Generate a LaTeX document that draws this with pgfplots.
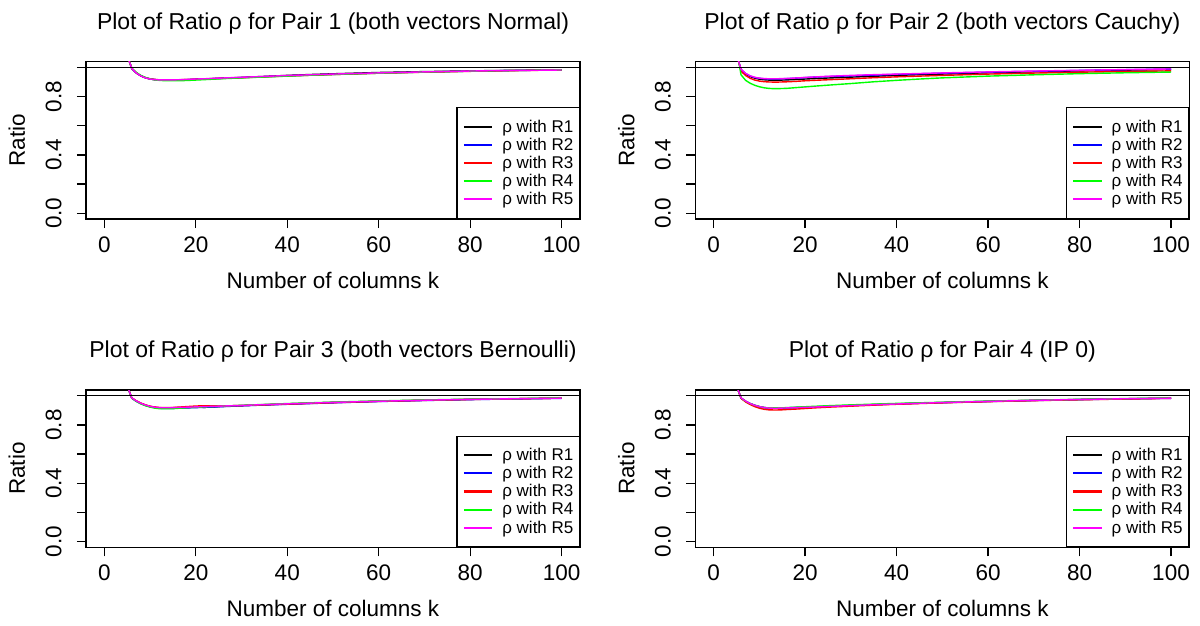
\documentclass[border=0pt]{standalone}
\usepackage{pgfplots}
\pgfplotsset{compat=1.18}
\usepackage{pgfplotstable}
\usepackage{fontspec}
\setmainfont{Liberation Sans}

\pgfplotstableread{
k r1 r2 r3 r4 r5
5 1.085 1.085 1.085 1.085 1.085
6 0.995 0.993 0.994 0.996 0.995
7 0.963 0.962 0.963 0.966 0.963
8 0.943 0.942 0.943 0.946 0.942
9 0.930 0.929 0.930 0.932 0.929
10 0.922 0.921 0.922 0.922 0.921
11 0.917 0.917 0.918 0.915 0.917
12 0.915 0.915 0.916 0.912 0.915
13 0.914 0.914 0.916 0.910 0.915
14 0.914 0.913 0.916 0.909 0.915
15 0.914 0.913 0.916 0.909 0.915
16 0.915 0.914 0.916 0.909 0.916
18 0.917 0.916 0.917 0.911 0.918
20 0.920 0.919 0.919 0.914 0.921
22 0.922 0.921 0.921 0.917 0.923
25 0.926 0.925 0.925 0.922 0.927
30 0.932 0.931 0.930 0.929 0.933
35 0.939 0.937 0.936 0.935 0.939
40 0.946 0.943 0.942 0.941 0.945
45 0.952 0.948 0.947 0.947 0.950
50 0.957 0.953 0.952 0.952 0.955
60 0.966 0.962 0.961 0.961 0.963
70 0.972 0.969 0.968 0.969 0.970
80 0.977 0.975 0.974 0.975 0.976
90 0.981 0.980 0.979 0.980 0.980
100 0.984 0.983 0.983 0.984 0.983
}\pairone

\pgfplotstableread{
k r1 r2 r3 r4 r5
5 1.09 1.09 1.10 1.13 1.09
6 0.985 0.987 0.975 0.950 0.988
7 0.955 0.958 0.945 0.912 0.960
8 0.938 0.941 0.926 0.892 0.943
9 0.927 0.931 0.914 0.878 0.933
10 0.920 0.926 0.907 0.868 0.927
11 0.916 0.923 0.903 0.861 0.924
12 0.914 0.922 0.901 0.857 0.923
13 0.913 0.922 0.900 0.855 0.923
14 0.913 0.922 0.900 0.855 0.923
15 0.914 0.923 0.901 0.856 0.924
16 0.915 0.924 0.902 0.857 0.925
18 0.918 0.927 0.905 0.862 0.928
20 0.921 0.931 0.909 0.867 0.932
22 0.924 0.934 0.912 0.872 0.935
25 0.928 0.938 0.916 0.879 0.940
30 0.934 0.943 0.923 0.890 0.946
35 0.940 0.948 0.930 0.902 0.951
40 0.946 0.953 0.936 0.912 0.955
45 0.951 0.957 0.941 0.921 0.959
50 0.955 0.961 0.946 0.929 0.963
60 0.964 0.968 0.955 0.941 0.970
70 0.971 0.974 0.962 0.950 0.976
80 0.977 0.980 0.968 0.958 0.981
90 0.982 0.985 0.973 0.964 0.986
100 0.987 0.989 0.977 0.969 0.990
}\pairtwo

\pgfplotstableread{
k r1 r2 r3 r4 r5
5 1.07 1.07 1.07 1.07 1.07
6 0.985 0.984 0.986 0.985 0.986
7 0.964 0.962 0.966 0.962 0.965
8 0.948 0.946 0.950 0.945 0.949
9 0.936 0.934 0.938 0.932 0.937
10 0.927 0.925 0.929 0.923 0.928
11 0.921 0.919 0.923 0.916 0.922
12 0.918 0.915 0.920 0.912 0.919
13 0.917 0.913 0.919 0.911 0.918
14 0.917 0.913 0.919 0.911 0.918
15 0.918 0.914 0.920 0.912 0.919
16 0.919 0.915 0.922 0.914 0.920
18 0.921 0.917 0.926 0.918 0.922
20 0.922 0.919 0.930 0.921 0.924
22 0.921 0.921 0.932 0.924 0.926
25 0.926 0.925 0.931 0.928 0.929
30 0.933 0.931 0.933 0.935 0.934
35 0.939 0.937 0.938 0.941 0.940
40 0.945 0.942 0.943 0.947 0.945
45 0.950 0.947 0.948 0.952 0.950
50 0.955 0.952 0.953 0.957 0.955
60 0.963 0.961 0.962 0.965 0.963
70 0.970 0.968 0.969 0.972 0.970
80 0.976 0.974 0.975 0.977 0.976
90 0.980 0.979 0.980 0.981 0.980
100 0.984 0.983 0.984 0.985 0.984
}\pairthree

\pgfplotstableread{
k r1 r2 r3 r4 r5
5 1.07 1.07 1.07 1.07 1.07
6 0.984 0.985 0.983 0.985 0.986
7 0.962 0.963 0.958 0.963 0.964
8 0.946 0.947 0.940 0.947 0.947
9 0.934 0.935 0.926 0.935 0.935
10 0.925 0.926 0.915 0.926 0.926
11 0.919 0.920 0.908 0.920 0.920
12 0.916 0.917 0.904 0.917 0.916
13 0.915 0.916 0.903 0.917 0.915
14 0.915 0.916 0.903 0.917 0.915
15 0.916 0.917 0.904 0.918 0.916
16 0.917 0.918 0.906 0.919 0.917
18 0.919 0.920 0.909 0.922 0.919
20 0.921 0.922 0.913 0.925 0.921
22 0.924 0.924 0.917 0.928 0.923
25 0.928 0.927 0.922 0.932 0.927
30 0.934 0.933 0.929 0.938 0.933
35 0.940 0.939 0.936 0.943 0.939
40 0.945 0.944 0.942 0.948 0.944
45 0.950 0.949 0.947 0.952 0.949
50 0.954 0.953 0.952 0.956 0.954
60 0.962 0.961 0.960 0.964 0.962
70 0.969 0.968 0.967 0.970 0.969
80 0.975 0.974 0.973 0.976 0.975
90 0.980 0.979 0.978 0.981 0.980
100 0.984 0.983 0.983 0.985 0.984
}\pairfour

\definecolor{rgreen}{rgb}{0,1,0}
\definecolor{rblue}{rgb}{0,0,1}
\definecolor{rred}{rgb}{1,0,0}
\definecolor{rmag}{rgb}{1,0,1}

\pgfplotsset{
  legend image code/.code={\draw[#1, line width=2.1pt] (0pt,0pt) -- (28.3pt,0pt);},
  rplot/.style={
    scale only axis, width=494pt, height=157.3pt,
    xmin=-4, xmax=104, ymin=-0.04, ymax=1.04,
    xtick={0,20,40,60,80,100},
    xticklabels={0,20,40,60,80,100},
    ytick={0,0.2,0.4,0.6,0.8,1},
    yticklabels={0.0,,0.4,,0.8,},
    tick align=outside, tick pos=left,
    major tick length=9pt,
    tick style={black, line width=1.2pt},
    axis line style={black, line width=1.2pt},
    /pgf/number format/assume math mode=true,
    ticklabel style={font=\fontsize{22.5}{26}\selectfont},
    xticklabel style={anchor=base, inner sep=0pt, yshift=-24.3pt},
    yticklabel style={xshift=-15.7pt, rotate=90, anchor=base, inner sep=0pt},
    every axis title/.style={at={(0.5,1)}, anchor=base, yshift=32.4pt, font=\fontsize{23}{26}\selectfont},
    every axis x label/.style={at={(0.5,0)}, anchor=base, yshift=-69.3pt, font=\fontsize{22.5}{26}\selectfont},
    every axis y label/.style={at={(0,0.5)}, xshift=-61pt, rotate=90, anchor=base, font=\fontsize{22.5}{26}\selectfont},
    xlabel={Number of columns k},
    ylabel={Ratio},
    legend style={at={(1,0)}, anchor=south east, draw=black, line width=1.2pt, fill=white,
      font=\fontsize{17}{18}\selectfont, inner xsep=6pt, inner ysep=10pt, row sep=0pt,
      nodes={inner sep=0pt, minimum height=18.1pt},
      /tikz/every odd column/.append style={column sep=9pt}},
    legend cell align=left,
  },
  rl/.style={line width=1.4pt},
}

\begin{document}
\begin{tikzpicture}
\useasboundingbox (0pt,0pt) rectangle (1200pt,625pt);
\begin{axis}[rplot, at={(86pt,406pt)}, anchor=south west,
  title={Plot of Ratio ρ for Pair 1 (both vectors Normal)}]
  \addplot[rl, black] table[x=k,y=r1]{\pairone};
  \addlegendentry{ρ with R1}
  \addplot[rl, rblue] table[x=k,y=r2]{\pairone};
  \addlegendentry{ρ with R2}
  \addplot[rl, rred] table[x=k,y=r3]{\pairone};
  \addlegendentry{ρ with R3}
  \addplot[rl, rgreen] table[x=k,y=r4]{\pairone};
  \addlegendentry{ρ with R4}
  \addplot[rl, rmag] table[x=k,y=r5]{\pairone};
  \addlegendentry{ρ with R5}
  \addplot[black, line width=1.2pt, forget plot] coordinates {(-4,1) (104,1)};
\end{axis}
\begin{axis}[rplot, at={(695.3pt,406pt)}, anchor=south west,
  title={Plot of Ratio ρ for Pair 2 (both vectors Cauchy)}]
  \addplot[rl, black] table[x=k,y=r1]{\pairtwo};
  \addlegendentry{ρ with R1}
  \addplot[rl, rblue] table[x=k,y=r2]{\pairtwo};
  \addlegendentry{ρ with R2}
  \addplot[rl, rred] table[x=k,y=r3]{\pairtwo};
  \addlegendentry{ρ with R3}
  \addplot[rl, rgreen] table[x=k,y=r4]{\pairtwo};
  \addlegendentry{ρ with R4}
  \addplot[rl, rmag] table[x=k,y=r5]{\pairtwo};
  \addlegendentry{ρ with R5}
  \addplot[black, line width=1.2pt, forget plot] coordinates {(-4,1) (104,1)};
\end{axis}
\begin{axis}[rplot, at={(86pt,77.7pt)}, anchor=south west,
  title={Plot of Ratio ρ for Pair 3 (both vectors Bernoulli)}]
  \addplot[rl, black] table[x=k,y=r1]{\pairthree};
  \addlegendentry{ρ with R1}
  \addplot[rl, rblue] table[x=k,y=r2]{\pairthree};
  \addlegendentry{ρ with R2}
  \addplot[rl, rred] table[x=k,y=r3]{\pairthree};
  \addlegendentry{ρ with R3}
  \addplot[rl, rgreen] table[x=k,y=r4]{\pairthree};
  \addlegendentry{ρ with R4}
  \addplot[rl, rmag] table[x=k,y=r5]{\pairthree};
  \addlegendentry{ρ with R5}
  \addplot[black, line width=1.2pt, forget plot] coordinates {(-4,1) (104,1)};
\end{axis}
\begin{axis}[rplot, at={(695.3pt,77.7pt)}, anchor=south west,
  title={Plot of Ratio ρ for Pair 4 (IP 0)}]
  \addplot[rl, black] table[x=k,y=r1]{\pairfour};
  \addlegendentry{ρ with R1}
  \addplot[rl, rblue] table[x=k,y=r2]{\pairfour};
  \addlegendentry{ρ with R2}
  \addplot[rl, rred] table[x=k,y=r3]{\pairfour};
  \addlegendentry{ρ with R3}
  \addplot[rl, rgreen] table[x=k,y=r4]{\pairfour};
  \addlegendentry{ρ with R4}
  \addplot[rl, rmag] table[x=k,y=r5]{\pairfour};
  \addlegendentry{ρ with R5}
  \addplot[black, line width=1.2pt, forget plot] coordinates {(-4,1) (104,1)};
\end{axis}
\end{tikzpicture}
\end{document}
